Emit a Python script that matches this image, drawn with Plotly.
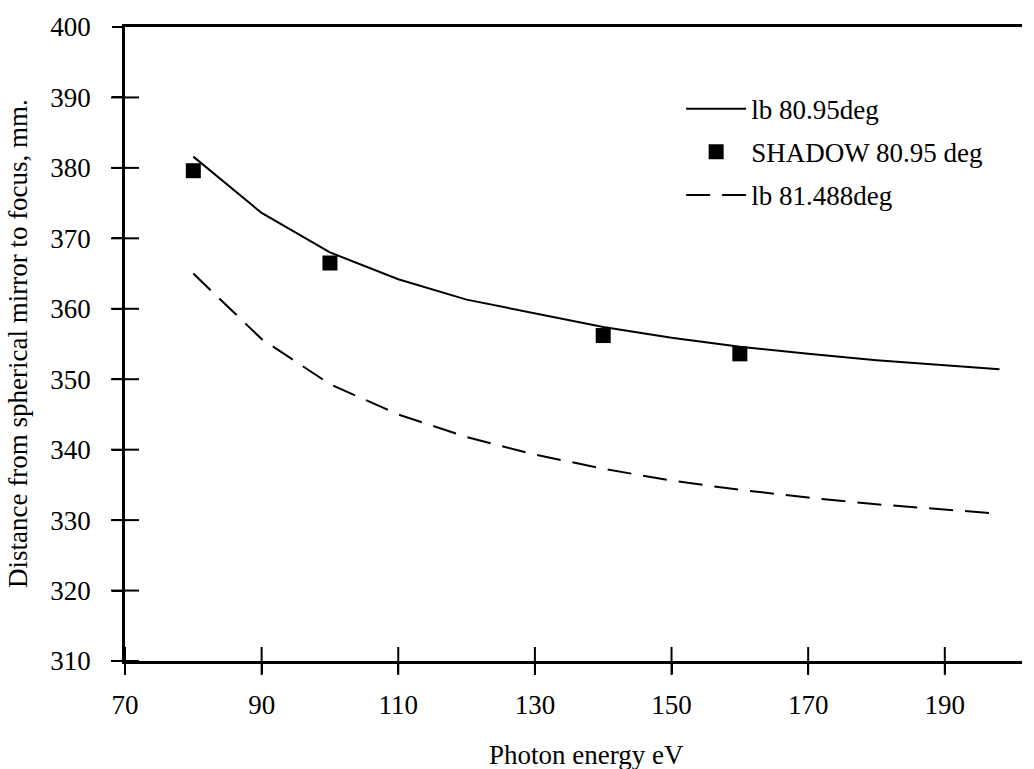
import plotly.graph_objects as go

# ---- data ----
energy_lb = [80, 90, 100, 110, 120, 130, 140, 150, 160, 170, 180, 190, 198]
dist_lb_8095 = [381.6, 373.6, 368.0, 364.2, 361.3, 359.4, 357.4, 355.9, 354.6, 353.6, 352.7, 352.0, 351.4]
dist_lb_81488 = [365.0, 355.7, 349.3, 345.0, 341.8, 339.3, 337.3, 335.6, 334.3, 333.2, 332.25, 331.5, 330.9]
energy_shadow = [80, 100, 140, 160]
dist_shadow = [379.6, 366.5, 356.2, 353.6]

x_ticks = [70, 90, 110, 130, 150, 170, 190]
y_ticks = [310, 320, 330, 340, 350, 360, 370, 380, 390, 400]

FONT = "Liberation Serif"
FS = 27
X_RANGE = [70, 201.3]
Y_RANGE = [310, 400]

W, H = 1034, 769
L, R, T, B = 125, 12, 25, 108
PW, PH = W - L - R, H - T - B

fig = go.Figure()
fig.add_trace(go.Scatter(x=energy_lb, y=dist_lb_8095, mode="lines", name="lb 80.95deg",
                         line=dict(color="black", width=2), legendgroup="a"))
fig.add_trace(go.Scatter(x=energy_shadow, y=dist_shadow, mode="markers", name="SHADOW 80.95 deg",
                         marker=dict(symbol="square", size=15, color="black"), legendgroup="b"))
fig.add_trace(go.Scatter(x=energy_lb, y=dist_lb_81488, mode="lines", name="lb 81.488deg",
                         line=dict(color="black", width=2, dash="24px,12px"), legendgroup="c"))

# crossing tick marks (centred on the axis lines), placed from the tick lists
fig.add_trace(go.Scatter(x=x_ticks, y=[Y_RANGE[0]] * len(x_ticks), mode="markers",
                         marker=dict(symbol="line-ns", size=20, line=dict(width=2, color="black")),
                         cliponaxis=False, showlegend=False, hoverinfo="skip"))
fig.add_trace(go.Scatter(x=[X_RANGE[0]] * (len(y_ticks) - 1), y=y_ticks[:-1], mode="markers",
                         marker=dict(symbol="line-ew", size=20, line=dict(width=2, color="black")),
                         cliponaxis=False, showlegend=False, hoverinfo="skip"))

axis_common = dict(showgrid=False, zeroline=False, color="black",
                   tickfont=dict(family=FONT, size=FS, color="black"))

fig.update_layout(
    width=W, height=H,
    margin=dict(l=L, r=R, t=T, b=B),
    paper_bgcolor="white", plot_bgcolor="white",
    font=dict(family=FONT, color="black"),
    xaxis=dict(range=X_RANGE, tickvals=x_ticks, ticks="outside", ticklen=10, tickwidth=2,
               tickcolor="black", showline=True, linecolor="black", linewidth=2.5,
               mirror=True, ticklabelstandoff=8, **axis_common),
    yaxis=dict(range=Y_RANGE, tickvals=y_ticks, ticks="outside", ticklen=10, tickwidth=2,
               tickcolor="black", showline=True, linecolor="black", linewidth=2.5,
               mirror=False, ticklabelstandoff=16, **axis_common),
    showlegend=True,
    legend=dict(x=0.62, y=0.909, xanchor="left", yanchor="top",
                font=dict(family=FONT, size=FS, color="black"),
                bgcolor="rgba(0,0,0,0)", tracegroupgap=5, itemwidth=60),
    annotations=[
        dict(text="Photon energy eV", x=(586 - L) / PW, y=(H - B - 755) / PH,
             xref="paper", yref="paper", xanchor="center", yanchor="middle",
             showarrow=False, font=dict(family=FONT, size=FS, color="black")),
        dict(text="Distance from spherical mirror to focus, mm.", x=(18 - L) / PW,
             y=(H - B - 343) / PH, xref="paper", yref="paper", xanchor="center",
             yanchor="middle", textangle=-90, showarrow=False,
             font=dict(family=FONT, size=FS, color="black")),
    ],
)

fig.write_html("out.html")
